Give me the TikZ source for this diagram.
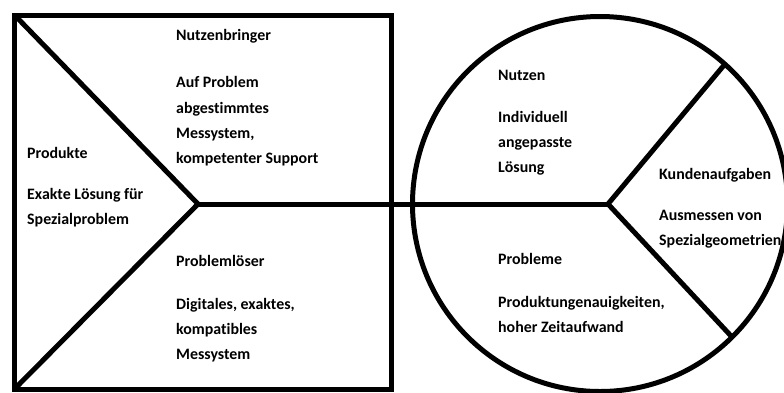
\documentclass[tikz,border=0pt]{standalone}
\usepackage{fontspec}
\setmainfont{Carlito}[Ligatures=NoCommon]
\begin{document}
\begin{tikzpicture}[x=1pt,y=-1pt,
  frame/.style={line width=5pt,line join=miter,line cap=butt},
  txt/.style={anchor=base west,inner sep=0pt,font=\bfseries\fontsize{15.9}{18}\selectfont}]
\useasboundingbox (0,0) rectangle (784,392);

% left square with the wedge
\coordinate (tl) at (14.5,15);
\coordinate (br) at (391,389);
\coordinate (bl) at (14.5,389);
\coordinate (v1) at (198,204);
\draw[frame] (tl) rectangle (br);
\draw[frame] (tl) -- (v1) -- (bl);

% right circle with its three sectors
\coordinate (c) at (600,204);
\coordinate (v2) at (608,204);
\coordinate (ru) at (725,64);
\coordinate (rd) at (732,337);
\draw[frame] (c) circle (187.5);
\draw[frame] (v1) -- (v2);
\draw[frame] (ru) -- (v2) -- (rd);

% texts of the square
\node[txt] (nb1) at (176,40.5) {Nutzenbringer};
\node[txt] (nb2) at (176,87.7) {Auf Problem};
\node[txt] (nb3) at (176,113) {abgestimmtes};
\node[txt] (nb4) at (176,138.4) {Messystem,};
\node[txt] (nb5) at (176,163.8) {kompetenter Support};

\node[txt] (pr1) at (27,158.3) {Produkte};
\node[txt] (pr2) at (27,199.3) {Exakte Lösung für};
\node[txt] (pr3) at (27,224.7) {Spezialproblem};

\node[txt] (pl1) at (176,266.7) {Problemlöser};
\node[txt] (pl2) at (176,309) {Digitales, exaktes,};
\node[txt] (pl3) at (176,334.4) {kompatibles};
\node[txt] (pl4) at (176,359.8) {Messystem};

% texts of the circle
\node[txt] (nu1) at (498,80) {Nutzen};
\node[txt] (nu2) at (498,122) {Individuell};
\node[txt] (nu3) at (498,147.4) {angepasste};
\node[txt] (nu4) at (498,172.8) {Lösung};

\node[txt] (ka1) at (659,179) {Kundenaufgaben};
\node[txt] (ka2) at (659,220) {Ausmessen von};
\node[txt] (ka3) at (659,245.4) {Spezialgeometrien};

\node[txt] (pb1) at (498,264) {Probleme};
\node[txt] (pb2) at (498,307) {Produktungenauigkeiten,};
\node[txt] (pb3) at (498,332.4) {hoher Zeitaufwand};
\end{tikzpicture}
\end{document}
